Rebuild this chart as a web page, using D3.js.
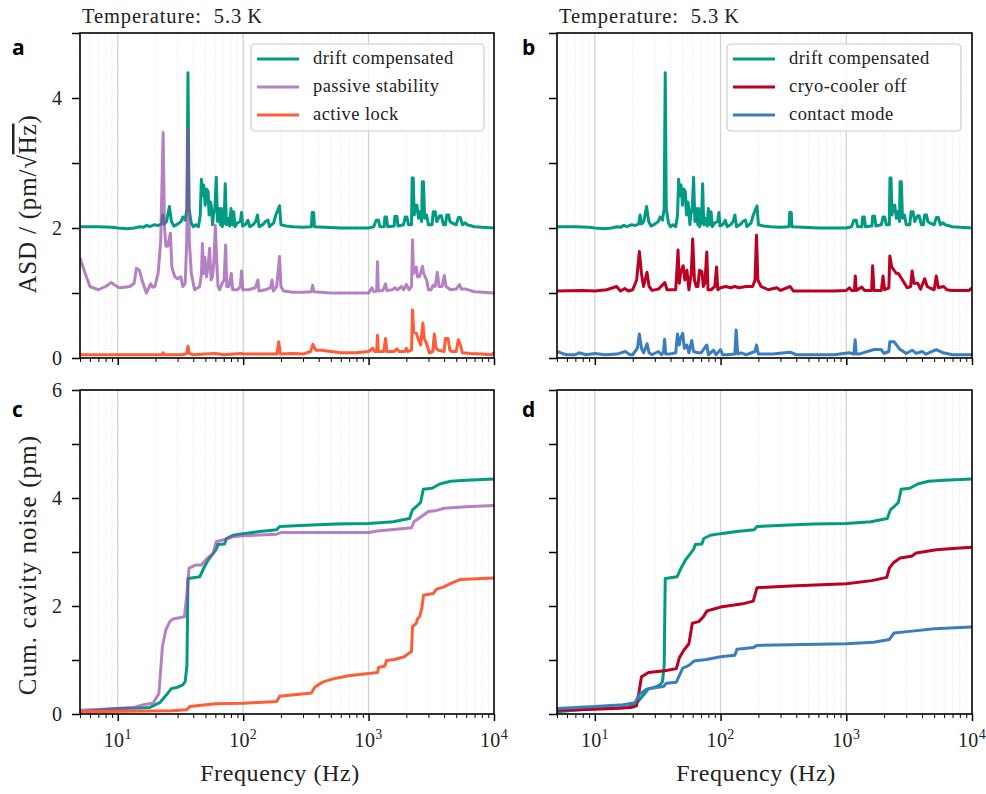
<!DOCTYPE html>
<html><head><meta charset="utf-8">
<script src="https://cdn.jsdelivr.net/npm/d3@7"></script>
<style>
body{margin:0;background:#fff;}
svg{display:block;font-family:"Liberation Serif","Times New Roman",serif;}
</style></head><body><svg id="fig" width="986" height="794"></svg>
<script>
// ---------- data: amplitude spectral density, pm/sqrt(Hz) (raw, before offset) ----------
const asdDrift = [[5,0.02],[7,0.02],[9,0.01],[10,0.0],[12,-0.01],[13.5,0.0],[15,0.02],[16,0.01],[17,0.04],[18,0.02],[19.5,0.05],[21,0.04],[22.3,0.06],[22.9,0.2],[23.5,0.06],[24.5,0.1],[25.8,0.33],[26.8,0.1],[28,0.03],[30,0.06],[32,0.1],[33,0.17],[34.5,0.12],[35.6,0.3],[36.3,2.39],[37.0,0.3],[38.5,0.08],[40,0.02],[42,0.05],[44,0.02],[45.5,0.2],[46.4,0.75],[47.5,0.5],[48.5,0.66],[49.8,0.35],[51,0.6],[52.5,0.56],[53.5,0.2],[55,0.4],[56,0.3],[57,0.05],[58,0.2],[59.5,0.3],[61,0.78],[62.5,0.1],[64,0.3],[66,0.05],[67,0.3],[68,0.02],[70.5,0.1],[72,0.68],[73.5,0.05],[76,0.15],[78,0.03],[80,0.3],[82,0.05],[84,0.25],[86,0.02],[90,0.08],[95,0.1],[97,0.24],[99,0.03],[105,0.06],[109,0.12],[113,0.02],[120,0.05],[126,0.1],[130,0.2],[134,0.02],[145,0.06],[150,0.1],[158,0.12],[162,0.02],[175,0.08],[182,0.2],[195,0.34],[200,0.05],[220,0.03],[250,0.02],[300,0.01],[350,0.02],[355,0.24],[365,0.24],[370,0.02],[450,0.01],[600,0.0],[800,0.0],[1000,0.0],[1100,0.02],[1150,0.12],[1200,0.12],[1230,0.02],[1330,0.02],[1350,0.17],[1390,0.17],[1420,0.02],[1600,0.03],[1620,0.18],[1680,0.18],[1720,0.03],[1900,0.05],[1960,0.17],[2020,0.17],[2080,0.05],[2200,0.05],[2225,0.77],[2270,0.77],[2310,0.2],[2380,0.35],[2430,0.35],[2500,0.15],[2560,0.25],[2650,0.1],[2680,0.71],[2740,0.71],[2800,0.15],[2900,0.2],[3000,0.05],[3200,0.05],[3280,0.25],[3400,0.25],[3500,0.1],[3700,0.19],[3800,0.19],[3950,0.05],[4100,0.05],[4200,0.2],[4350,0.2],[4450,0.1],[4600,0.08],[5000,0.05],[5200,0.16],[5400,0.16],[5600,0.05],[5900,0.08],[6100,0.05],[7000,0.02],[8000,0.01],[10000,0.0]];

const asdPassive = [[5,0.54],[5.5,0.3],[6,0.1],[7,0.05],[8,0.1],[8.9,0.16],[10,0.09],[10.5,0.08],[12.5,0.1],[13.5,0.15],[14.1,0.38],[14.9,0.35],[15.6,0.2],[16.9,0.0],[18.3,0.14],[19,0.09],[19.8,0.1],[21,0.31],[22,0.8],[23,2.47],[23.6,1.0],[24.2,0.72],[25,0.72],[26.3,0.92],[27,0.4],[28.5,0.25],[30,0.22],[31.8,0.25],[33,0.1],[34.5,0.15],[35.5,0.8],[36.3,2.53],[37.2,0.8],[38.6,0.3],[40,0.15],[41,0.05],[45,0.1],[46.5,0.3],[47.3,0.76],[48.3,0.3],[49.5,0.55],[51,0.25],[52.5,0.4],[54,0.69],[55.5,0.2],[57,0.25],[58.5,0.5],[60,1.04],[61.5,0.5],[63,0.1],[65,0.05],[68,0.15],[70.5,0.2],[72.5,0.74],[74,0.1],[77,0.1],[80.5,0.3],[82.5,0.05],[90,0.05],[95,0.1],[97,0.34],[99,0.05],[110,0.05],[125,0.08],[131,0.2],[134,0.03],[150,0.05],[165,0.08],[170,0.2],[174,0.03],[185,0.1],[195,0.56],[200,0.1],[210,0.03],[250,0.01],[300,0.01],[350,0.02],[358,0.12],[366,0.02],[500,0.0],[800,0.0],[1000,0.0],[1063,0.08],[1100,0.02],[1160,0.03],[1178,0.48],[1196,0.03],[1300,0.04],[1366,0.14],[1400,0.04],[1550,0.05],[1620,0.08],[1700,0.05],[1830,0.1],[1900,0.05],[2000,0.13],[2100,0.05],[2200,0.1],[2240,0.82],[2280,0.3],[2400,0.4],[2450,0.25],[2550,0.25],[2690,0.41],[2750,0.3],[2900,0.2],[3000,0.05],[3150,0.05],[3270,0.12],[3400,0.1],[3530,0.32],[3650,0.1],[3850,0.1],[4020,0.27],[4150,0.1],[4500,0.05],[5000,0.06],[5300,0.13],[5500,0.06],[5960,0.06],[7000,0.02],[10000,0.0]];

const asdActive = [[5,0.05],[10,0.05],[20,0.05],[22.5,0.05],[23,0.08],[23.6,0.05],[33,0.05],[35.5,0.07],[36.3,0.18],[37.2,0.07],[40,0.05],[50,0.06],[60,0.07],[70,0.05],[97,0.07],[100,0.06],[150,0.06],[186,0.06],[192,0.25],[198,0.06],[250,0.07],[300,0.06],[345,0.1],[360,0.21],[380,0.12],[420,0.12],[500,0.1],[600,0.08],[800,0.08],[1000,0.1],[1080,0.15],[1120,0.1],[1160,0.1],[1178,0.35],[1196,0.1],[1320,0.1],[1366,0.3],[1400,0.1],[1600,0.1],[1680,0.14],[1750,0.1],[1950,0.1],[2000,0.15],[2050,0.1],[2200,0.12],[2240,0.74],[2290,0.4],[2400,0.38],[2500,0.28],[2600,0.2],[2710,0.54],[2780,0.3],[2900,0.22],[3050,0.08],[3250,0.1],[3344,0.37],[3450,0.15],[3600,0.12],[4000,0.1],[4100,0.3],[4300,0.3],[4450,0.12],[4600,0.1],[5000,0.1],[5200,0.28],[5400,0.2],[5600,0.08],[6500,0.07],[8000,0.06],[9500,0.05],[10000,0.08]];

const asdCryoOff = [[5,0.03],[8,0.04],[10,0.03],[12.4,0.05],[14.9,0.1],[16,0.03],[17.3,0.07],[18.5,0.03],[20,0.05],[21.5,0.2],[22.6,0.64],[23.5,0.3],[24.4,0.1],[26,0.32],[27,0.1],[28.5,0.04],[32,0.06],[36.1,0.16],[37.5,0.05],[44,0.05],[45.9,0.66],[47,0.15],[48,0.3],[50.4,0.42],[52,0.2],[54,0.35],[56,0.05],[58.5,0.3],[60,0.83],[62,0.2],[64,0.1],[66,0.1],[68,0.35],[71,0.33],[73,0.1],[75,0.15],[77.7,0.63],[79.5,0.05],[84,0.05],[90,0.1],[93,0.4],[95,0.05],[100,0.08],[110,0.1],[120,0.08],[130,0.1],[140,0.08],[160,0.1],[180,0.1],[188,0.2],[193,0.89],[198,0.2],[210,0.1],[240,0.05],[280,0.08],[300,0.04],[358,0.1],[380,0.03],[500,0.03],[800,0.03],[1000,0.04],[1060,0.08],[1100,0.04],[1160,0.04],[1180,0.26],[1200,0.04],[1330,0.09],[1400,0.04],[1590,0.04],[1620,0.42],[1660,0.04],[1900,0.04],[1960,0.26],[2020,0.05],[2180,0.08],[2220,0.57],[2300,0.4],[2400,0.35],[2500,0.3],[2600,0.3],[2800,0.2],[3050,0.08],[3250,0.1],[3340,0.34],[3450,0.15],[3700,0.15],[3900,0.06],[4200,0.22],[4400,0.1],[4600,0.08],[5000,0.05],[5200,0.26],[5400,0.08],[5950,0.1],[6300,0.05],[6900,0.04],[8000,0.04],[9500,0.04],[10000,0.08]];

const asdContact = [[5,0.1],[5.5,0.07],[6,0.05],[7,0.05],[7.5,0.08],[8.5,0.05],[10,0.07],[12,0.05],[15,0.06],[17.5,0.1],[19,0.05],[20,0.05],[21.8,0.15],[22.6,0.37],[23.5,0.15],[24.5,0.08],[26,0.22],[27,0.08],[28.5,0.05],[32,0.1],[34,0.05],[35.2,0.1],[35.9,0.29],[36.6,0.06],[39,0.06],[44,0.08],[45.4,0.37],[47,0.2],[48,0.3],[50,0.38],[51.5,0.15],[54,0.2],[56,0.08],[59,0.27],[61,0.1],[66,0.08],[70,0.08],[77.7,0.2],[80,0.05],[88,0.12],[92,0.05],[100,0.13],[104,0.05],[113,0.05],[130,0.06],[133,0.43],[137,0.06],[145,0.08],[160,0.05],[188,0.1],[193,0.2],[200,0.06],[260,0.06],[358,0.09],[400,0.05],[800,0.05],[1060,0.08],[1150,0.06],[1177,0.28],[1200,0.06],[1260,0.06],[1660,0.13],[1890,0.13],[2000,0.07],[2180,0.1],[2220,0.25],[2400,0.25],[2650,0.14],[3000,0.07],[3340,0.12],[3600,0.07],[4000,0.1],[4300,0.06],[5200,0.13],[5900,0.08],[7000,0.05],[10000,0.05]];

// vertical offsets used to stack the spectra
const offsetsA = [2, 1, 0];   // drift compensated, passive stability, active lock
const offsetsB = [2, 1, 0];   // drift compensated, cryo-cooler off, contact mode

// ---------- data: cumulative cavity noise, pm ----------
const cumDrift = [[5,0.04],[10,0.1],[15,0.11],[18,0.12],[21.6,0.21],[24.4,0.35],[26.7,0.47],[29.5,0.49],[33,0.54],[34.5,0.6],[35.6,0.9],[36.3,2.51],[45,2.54],[48,2.68],[52.5,2.85],[57.5,2.97],[61,3.05],[63,3.14],[71,3.15],[73.5,3.25],[83,3.31],[100,3.34],[135,3.38],[185,3.41],[195,3.47],[350,3.5],[550,3.52],[1000,3.53],[1570,3.56],[2120,3.62],[2240,3.78],[2450,3.86],[2600,3.92],[2730,4.16],[3200,4.18],[3700,4.26],[4500,4.31],[6000,4.33],[10000,4.35]];
const cumPassive = [[5,0.07],[10,0.1],[13.4,0.12],[15.9,0.17],[19.1,0.2],[21.3,0.38],[22.7,1.25],[24.2,1.56],[26,1.71],[27.6,1.76],[34,1.8],[35.7,2.24],[37,2.7],[42,2.76],[46.5,2.76],[51,2.87],[57.5,2.97],[61,3.19],[73.5,3.24],[83,3.28],[100,3.3],[185,3.33],[200,3.36],[1000,3.36],[1180,3.39],[2200,3.45],[2300,3.56],[2730,3.68],[3000,3.75],[3500,3.77],[4000,3.81],[6000,3.84],[10000,3.86]];
const cumActive = [[5,0.04],[27,0.06],[35.5,0.08],[37.7,0.14],[60,0.19],[100,0.2],[185,0.23],[195,0.33],[350,0.39],[373,0.5],[430,0.59],[520,0.65],[690,0.71],[1000,0.75],[1180,0.77],[1200,0.86],[1350,0.89],[1390,0.99],[1610,1.01],[1920,1.06],[2200,1.16],[2240,1.62],[2400,1.68],[2450,1.76],[2550,1.8],[2660,1.96],[2740,2.2],[3270,2.23],[3480,2.31],[3930,2.35],[4450,2.41],[5350,2.49],[10000,2.52]];
const cumCryoOff = [[5,0.07],[10,0.09],[14,0.1],[19.4,0.12],[21.4,0.15],[22.5,0.42],[23.5,0.69],[26.7,0.77],[36,0.8],[44.5,0.84],[47,1.04],[51,1.18],[56,1.3],[59.6,1.68],[67,1.71],[73,1.8],[78,1.91],[90,1.95],[100,1.98],[150,2.04],[182,2.09],[195,2.34],[360,2.37],[1000,2.41],[1600,2.47],[2100,2.53],[2200,2.7],[2370,2.8],[2680,2.89],[3300,2.92],[3600,2.98],[5200,3.04],[7500,3.07],[10000,3.09]];
const cumContact = [[5,0.1],[10,0.14],[16.8,0.17],[20.8,0.21],[22.8,0.37],[25.8,0.46],[29,0.48],[35.2,0.51],[37,0.57],[44.5,0.59],[50,0.85],[56,0.9],[61.5,0.98],[77,1.01],[100,1.06],[130,1.09],[135,1.2],[182,1.23],[195,1.27],[1000,1.3],[1650,1.33],[2200,1.38],[2400,1.5],[3200,1.53],[5000,1.58],[10000,1.61]];

// ---------- labels ----------
const seriesNamesA = ["drift compensated", "passive stability", "active lock"];
const seriesNamesB = ["drift compensated", "cryo-cooler off", "contact mode"];
const panelLetters = ["a", "b", "c", "d"];
const titleText = "Temperature:\u00a0\u00a05.3\u2009K";
const xMajorTicks = [10, 100, 1000, 10000];
const asdTicks = [0, 1, 2, 3, 4, 5];
const cumTicks = [0, 1, 2, 3, 4, 5, 6];

// ---------- styles ----------
const colDrift = "#009b82", colPassive = "#944ca9", colActive = "#ff5c38",
      colCryo = "#bb0022", colContact = "#3a7ebf";
const alphaPassive = 0.7;

const svg = d3.select("#fig");
const serif = '"Liberation Serif","Times New Roman",serif';
const sans = '"Open Sans","DejaVu Sans",sans-serif';

const xMinor = [];
[1, 10, 100, 1000].forEach(dec => { for (let k = 2; k <= 9; k++) { const v = k * dec; if (v >= 5 && v < 10000) xMinor.push(v); } });

function panel(box, opts) {
  const g = svg.append("g");
  const x = d3.scaleLog().domain([5, 10000]).range([box.x0, box.x1]);
  const y = d3.scaleLinear().domain(opts.ydomain).range([box.y1, box.y0]);

  // grid
  g.append("g").selectAll("line").data(xMinor).join("line")
    .attr("x1", d => x(d)).attr("x2", d => x(d)).attr("y1", box.y0).attr("y2", box.y1)
    .attr("stroke", "#e6e6e6").attr("stroke-width", 0.8).attr("stroke-dasharray", "1.5,1.5");
  g.append("g").selectAll("line").data(xMajorTicks.slice(0, 3)).join("line")
    .attr("x1", d => x(d)).attr("x2", d => x(d)).attr("y1", box.y0).attr("y2", box.y1)
    .attr("stroke", "#d2d2d2").attr("stroke-width", 1.3);

  // data
  const clipId = "clip" + opts.letter;
  svg.append("clipPath").attr("id", clipId).append("rect")
    .attr("x", box.x0).attr("y", box.y0).attr("width", box.x1 - box.x0).attr("height", box.y1 - box.y0);
  const lines = g.append("g").attr("clip-path", `url(#${clipId})`);
  opts.series.forEach(s => {
    const line = d3.line().x(d => x(d[0])).y(d => y(d[1] + (s.offset || 0)));
    lines.append("path").datum(s.data).attr("d", line)
      .attr("fill", "none").attr("stroke", s.color).attr("stroke-opacity", s.alpha || 1)
      .attr("stroke-width", 3).attr("stroke-linejoin", "round").attr("stroke-linecap", "butt");
  });

  // x axis
  const xa = g.append("g").attr("transform", `translate(0,${box.y1})`);
  xa.append("g").call(d3.axisBottom(x).tickValues(xMinor).tickSize(4).tickFormat(""))
    .call(a => a.select(".domain").remove())
    .call(a => a.selectAll("line").attr("stroke", "#000").attr("stroke-width", 1));
  xa.append("g").call(d3.axisBottom(x).tickValues(xMajorTicks).tickSize(7).tickFormat(""))
    .call(a => a.select(".domain").remove())
    .call(a => a.selectAll("line").attr("stroke", "#000").attr("stroke-width", 1.5));
  if (opts.xlabels) {
    xa.selectAll(".xl").data(xMajorTicks).join("text").attr("class", "xl")
      .attr("x", d => x(d)).attr("y", 33).attr("text-anchor", "middle")
      .attr("font-family", serif).attr("font-size", 20).attr("letter-spacing", 0.3).attr("fill", "#222")
      .each(function(d) {
        const t = d3.select(this);
        t.append("tspan").text("10");
        t.append("tspan").attr("font-size", 14).attr("dy", -8).text(Math.round(Math.log10(d)));
      });
    g.append("text").attr("x", opts.xlabelX).attr("y", 781)
      .attr("text-anchor", "middle").attr("font-family", serif).attr("font-size", 24)
      .attr("letter-spacing", 0.6).attr("fill", "#222")
      .text("Frequency (Hz)");
  }

  // y axis
  const ya = g.append("g").attr("transform", `translate(${box.x0},0)`);
  ya.call(d3.axisLeft(y).tickValues(opts.yticks).tickSize(8).tickFormat(""))
    .call(a => a.select(".domain").remove())
    .call(a => a.selectAll("line").attr("stroke", "#000").attr("stroke-width", 1.5));
  if (opts.ylabels) {
    ya.selectAll(".yl").data(opts.yticks.filter(v => v % 2 === 0)).join("text").attr("class", "yl")
      .attr("x", -18).attr("y", d => y(d)).attr("dy", "0.34em").attr("text-anchor", "end")
      .attr("font-family", serif).attr("font-size", 20).attr("fill", "#222").text(d => d);
  }

  // frame
  g.append("rect").attr("x", box.x0).attr("y", box.y0).attr("width", box.x1 - box.x0).attr("height", box.y1 - box.y0)
    .attr("fill", "none").attr("stroke", "#000").attr("stroke-width", 1.6);

  // panel letter
  svg.append("text").attr("x", opts.letterPos[0]).attr("y", opts.letterPos[1])
    .attr("font-family", sans).attr("font-weight", 700)
    .attr("font-size", 21).attr("fill", "#000").text(opts.letter);

  // legend
  if (opts.legend) {
    const L = opts.legend;
    const lg = g.append("g");
    lg.append("rect").attr("x", L.x).attr("y", L.y).attr("width", L.w).attr("height", L.h)
      .attr("rx", 4).attr("fill", "#fff").attr("fill-opacity", 0.8)
      .attr("stroke", "#cccccc").attr("stroke-width", 1.2);
    opts.series.forEach((s, i) => {
      const yy = L.y + 15 + i * 28;
      lg.append("line").attr("x1", L.x + 6).attr("x2", L.x + 48).attr("y1", yy).attr("y2", yy)
        .attr("stroke", s.color).attr("stroke-opacity", s.alpha || 1).attr("stroke-width", 3);
      lg.append("text").attr("x", L.x + 62).attr("y", yy + 5)
        .attr("font-family", serif).attr("font-size", 18.5).attr("letter-spacing", 0.45)
        .attr("fill", "#222").text(s.name);
    });
  }
  return { x, y };
}

const boxA = { x0: 80, x1: 494, y0: 33, y1: 358 };
const boxB = { x0: 557, x1: 972, y0: 33, y1: 358 };
const boxC = { x0: 80, x1: 494, y0: 390, y1: 714 };
const boxD = { x0: 557, x1: 972, y0: 390, y1: 714 };

panel(boxA, { letter: panelLetters[0], letterPos: [12, 55], ydomain: [0, 5], yticks: asdTicks, ylabels: true, xlabels: false,
  series: [
    { name: seriesNamesA[0], data: asdDrift, offset: offsetsA[0], color: colDrift },
    { name: seriesNamesA[1], data: asdPassive, offset: offsetsA[1], color: colPassive, alpha: alphaPassive },
    { name: seriesNamesA[2], data: asdActive, offset: offsetsA[2], color: colActive }],
  legend: { x: 251, y: 44, w: 233, h: 87 } });

panel(boxB, { letter: panelLetters[1], letterPos: [522, 55], ydomain: [0, 5], yticks: asdTicks, ylabels: false, xlabels: false,
  series: [
    { name: seriesNamesB[0], data: asdDrift, offset: offsetsB[0], color: colDrift },
    { name: seriesNamesB[1], data: asdCryoOff, offset: offsetsB[1], color: colCryo },
    { name: seriesNamesB[2], data: asdContact, offset: offsetsB[2], color: colContact }],
  legend: { x: 727, y: 44, w: 234, h: 87 } });

panel(boxC, { letter: panelLetters[2], letterPos: [12, 417], ydomain: [0, 6], yticks: cumTicks, ylabels: true, xlabels: true,
  xlabelX: 280,
  series: [
    { data: cumDrift, color: colDrift },
    { data: cumPassive, color: colPassive, alpha: alphaPassive },
    { data: cumActive, color: colActive }] });

panel(boxD, { letter: panelLetters[3], letterPos: [522, 417], ydomain: [0, 6], yticks: cumTicks, ylabels: false, xlabels: true,
  xlabelX: 756,
  series: [
    { data: cumDrift, color: colDrift },
    { data: cumCryoOff, color: colCryo },
    { data: cumContact, color: colContact }] });

// titles
[boxA, boxB].forEach(b => {
  svg.append("text").attr("x", b.x0 + 2).attr("y", 23).attr("font-family", serif)
    .attr("font-size", 20.5).attr("letter-spacing", 0.9).attr("fill", "#222").text(titleText);
});

// y-axis labels
const asdLabel = svg.append("text").attr("transform", "translate(36,204) rotate(-90)")
  .attr("text-anchor", "middle").attr("font-family", serif).attr("font-size", 25)
  .attr("letter-spacing", 0.8).attr("fill", "#222");
asdLabel.append("tspan").text("ASD / (pm/\u221a");
asdLabel.append("tspan").attr("text-decoration", "overline").style("text-decoration", "overline").text("Hz");
asdLabel.append("tspan").text(")");

svg.append("text").attr("transform", "translate(36,565) rotate(-90)")
  .attr("text-anchor", "middle").attr("font-family", serif).attr("font-size", 25)
  .attr("letter-spacing", 1.1).attr("fill", "#222")
  .text("Cum. cavity noise (pm)");
</script></body></html>
